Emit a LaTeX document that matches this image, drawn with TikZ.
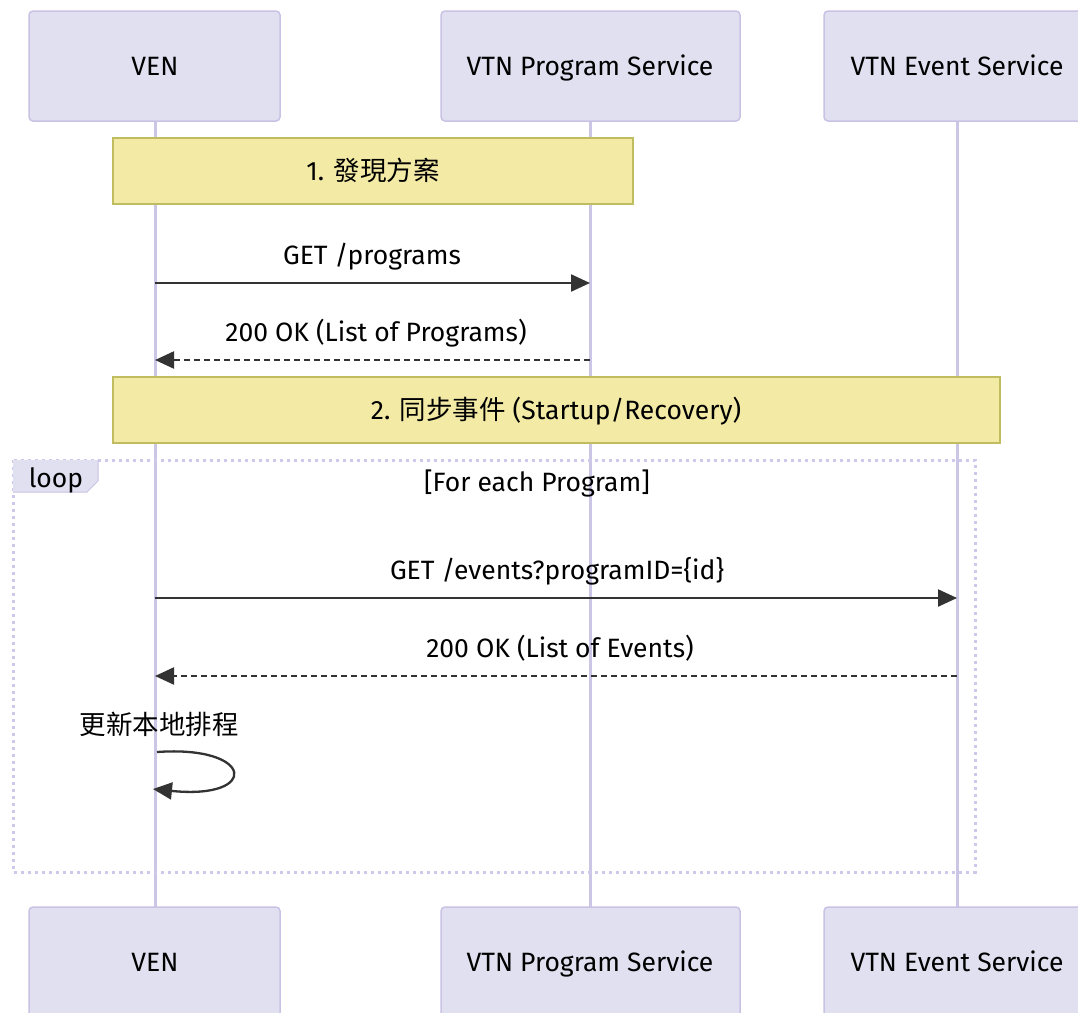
\documentclass[tikz,border=0pt]{standalone}
\usepackage{fontspec}
\setmainfont{Fira Sans}
\newfontfamily\cjk{Noto Sans CJK TC}
\usetikzlibrary{arrows.meta}
\definecolor{actfill}{RGB}{224,224,241}
\definecolor{actline}{RGB}{202,194,228}
\definecolor{lifecol}{RGB}{204,198,230}
\definecolor{notefill}{RGB}{243,234,166}
\definecolor{noteline}{RGB}{192,188,96}
\definecolor{loopcol}{RGB}{208,200,234}
\definecolor{ink}{RGB}{51,51,51}
\tikzset{
  actor/.style={draw=actline, line width=1.5pt, fill=actfill, rounded corners=4pt},
  lifeline/.style={draw=lifecol, line width=3pt},
  notebox/.style={draw=noteline, line width=1.5pt, fill=notefill},
  lbl/.style={font=\fontsize{26.5}{32}\selectfont, text=black, inner sep=0pt, text height=18.5pt, text depth=0pt},
  msg/.style={draw=ink, line width=2.3pt, -{Triangle[length=19pt,width=17pt]}},
  reply/.style={msg, dash pattern=on 6pt off 4pt},
  loopframe/.style={draw=loopcol, line width=3pt, dash pattern=on 3pt off 4pt},
}
\begin{document}
\begin{tikzpicture}[x=1pt,y=-1pt]
\useasboundingbox (0,0) rectangle (1078,1012);
\fill[white] (0,0) rectangle (1078,1012);
% lifelines (drawn first)
\coordinate (venT) at (155,121); \coordinate (venB) at (155,907);
\coordinate (prgT) at (590,121); \coordinate (prgB) at (590,907);
\coordinate (evtT) at (957,121); \coordinate (evtB) at (957,907);
\draw[lifeline] (venT) -- (venB);
\draw[lifeline] (prgT) -- (prgB);
\draw[lifeline] (evtT) -- (evtB);
% actors top
\draw[actor] (29,11) rectangle (280,121);
\node[lbl] (venTop) at (155,66) {VEN};
\draw[actor] (441,11) rectangle (740,121);
\node[lbl] (prgTop) at (590,66) {VTN Program Service};
\draw[actor] (824,11) rectangle (1090,121);
\node[lbl] (evtTop) at (957,66) {VTN Event Service};
% actors bottom
\draw[actor] (29,907) rectangle (280,1017);
\node[lbl] (venBot) at (155,962) {VEN};
\draw[actor] (441,907) rectangle (740,1017);
\node[lbl] (prgBot) at (590,962) {VTN Program Service};
\draw[actor] (824,907) rectangle (1090,1017);
\node[lbl] (evtBot) at (957,962) {VTN Event Service};
% note 1
\draw[notebox] (113,138) rectangle (633,204);
\node[lbl] (n1) at (373,171) {1. {\cjk 發現方案}};
% messages 1
\coordinate (m1a) at (155,283); \coordinate (m1b) at (590,283);
\draw[msg] (m1a) -- (m1b);
\node[lbl] (m1l) at (372,255) {GET /programs};
\coordinate (m2a) at (590,360); \coordinate (m2b) at (155,360);
\draw[reply] (m2a) -- (m2b);
\node[lbl] (m2l) at (376,332) {200 OK (List of Programs)};
% note 2
\draw[notebox] (113,377) rectangle (1000,443);
\node[lbl] (n2) at (556,410) {2. {\cjk 同步事件} (Startup/Recovery)};
% loop frame
\draw[loopframe] (13,460) rectangle (975,872);
\fill[actfill] (13,460) -- (98,460) -- (98,481) -- (87,492) -- (13,492) -- cycle;
\draw[draw=actline, line width=1pt] (98,460) -- (98,481) -- (87,492) -- (13,492);
\node[lbl] (loopl) at (56,478) {loop};
\node[lbl] (loopc) at (537,482) {[For each Program]};
% messages 2
\coordinate (m3a) at (155,598); \coordinate (m3b) at (957,598);
\draw[msg] (m3a) -- (m3b);
\node[lbl] (m3l) at (557,570) {GET /events?programID=\{id\}};
\coordinate (m4a) at (957,676); \coordinate (m4b) at (155,676);
\draw[reply] (m4a) -- (m4b);
\node[lbl] (m4l) at (560,648) {200 OK (List of Events)};
% self message
\node[lbl] (selfl) at (159,725) {\cjk 更新本地排程};
\coordinate (s1) at (157,752); \coordinate (s2) at (153,789);
\draw[msg] (s1) .. controls (255,745) and (260,800) .. (s2);
\end{tikzpicture}
\end{document}
